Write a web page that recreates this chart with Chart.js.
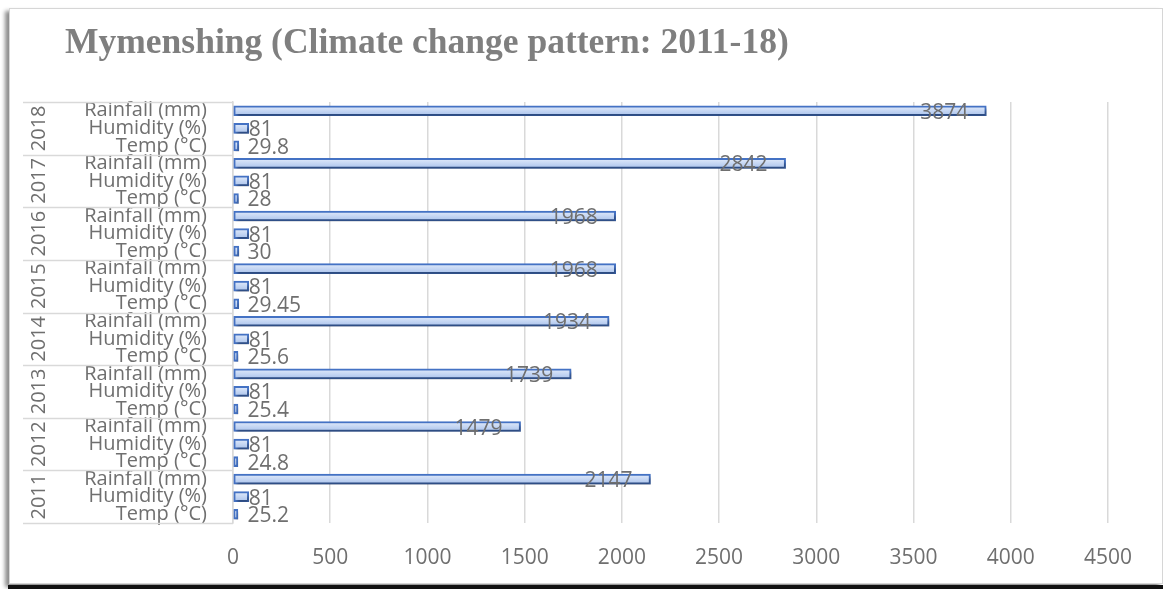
<!DOCTYPE html>
<html>
<head>
<meta charset="utf-8">
<title>Mymenshing climate change pattern 2011-18</title>
<script src="https://cdn.jsdelivr.net/npm/chart.js@4.4.1/dist/chart.umd.min.js"></script>
<style>
  html, body { margin: 0; padding: 0; background: #fff; width: 1163px; height: 589px; overflow: hidden; }
  #frame { position: absolute; left: 9px; top: 8px; width: 1152px; height: 574px;
           border: 1px solid #d6d6d6; background: #fff;
           box-shadow: -4px 3px 4px rgba(0,0,0,0.45); }
  #strip { position: absolute; left: 8px; top: 585px; width: 1155px; height: 4px; background: #111; }
  #wrap  { position: absolute; left: 0; top: 0; width: 1163px; height: 589px; }
</style>
</head>
<body>
<div id="frame"></div>
<div id="strip"></div>
<div id="wrap"><canvas id="chart"></canvas></div>
<script>
// Title and data
const chartTitle = 'Mymenshing (Climate change pattern: 2011-18)';
const years = ['2011', '2012', '2013', '2014', '2015', '2016', '2017', '2018'];
const measures = ['Temp (°C)', 'Humidity (%)', 'Rainfall (mm)'];
const tempC = [25.2, 24.8, 25.4, 25.6, 29.45, 30, 28, 29.8];
const humidityPct = [81, 81, 81, 81, 81, 81, 81, 81];
const rainfallMm = [2147, 1479, 1739, 1934, 1968, 1968, 2842, 3874];
const valueAxisMin = 0;
const valueAxisMax = 4500;
const valueAxisStep = 500;

// Flatten into year / measure rows (2011 Temp first, drawn at the bottom)
const rowLabels = [];
const rowValues = [];
const rowMeasure = [];
years.forEach((y, i) => {
  [tempC[i], humidityPct[i], rainfallMm[i]].forEach((v, m) => {
    rowLabels.push(measures[m]);
    rowValues.push(v);
    rowMeasure.push(m);
  });
});

const textGrey = '#6f6f6f';
const lineGrey = '#d9d9d9';
const bodyFont = '"Open Sans", "Noto Sans", sans-serif';

// Soft drop shadow under the bars, plus value labels
const barDecor = {
  id: 'barDecor',
  beforeDatasetsDraw(chart) {
    const c = chart.ctx;
    c.save();
    c.shadowColor = 'rgba(0,0,0,0.35)';
    c.shadowBlur = 3;
    c.shadowOffsetX = 2;
    c.shadowOffsetY = 3;
  },
  afterDatasetsDraw(chart) {
    const c = chart.ctx;
    c.restore();
    const meta = chart.getDatasetMeta(0);
    const zeroX = chart.scales.x.getPixelForValue(0);
    c.save();
    c.font = '21px ' + bodyFont;
    c.fillStyle = textGrey;
    c.textBaseline = 'middle';
    meta.data.forEach((bar, i) => {
      const txt = String(rowValues[i]);
      if (rowMeasure[i] === 2) {
        c.textAlign = 'right';
        c.fillText(txt, bar.x - 18, bar.y + 2);
      } else {
        c.textAlign = 'left';
        c.fillText(txt, Math.max(bar.x, zeroX + 14.5), bar.y + 2);
      }
    });
    c.restore();
  }
};

// Year group labels, group separators and the title
const groupAxis = {
  id: 'groupAxis',
  afterDraw(chart) {
    const c = chart.ctx;
    const ys = chart.scales.y;
    c.save();
    c.strokeStyle = lineGrey;
    c.lineWidth = 1.5;
    for (let k = 0; k <= years.length; k++) {
      const y = Math.round(ys.getPixelForValue(k * 3 - 0.5)) + 0.5;
      c.beginPath();
      c.moveTo(23, y);
      c.lineTo(ys.right, y);
      c.stroke();
    }
    c.fillStyle = textGrey;
    c.font = '20px ' + bodyFont;
    c.textAlign = 'center';
    c.textBaseline = 'middle';
    years.forEach((yr, k) => {
      const yc = ys.getPixelForValue(k * 3 + 1);
      c.save();
      c.translate(39, yc);
      c.rotate(-Math.PI / 2);
      c.fillText(yr, 0, 0);
      c.restore();
    });
    c.font = 'bold 35.5px "Liberation Serif", "Times New Roman", serif';
    c.fillStyle = '#7f7f7f';
    c.textAlign = 'left';
    c.textBaseline = 'alphabetic';
    c.fillText(chartTitle, 65, 53);
    c.restore();
  }
};

// Light top-to-bottom gradient inside each bar
function barFill(ctx) {
  const chart = ctx.chart;
  const ys = chart.scales && chart.scales.y;
  const fallback = '#c9d8f2';
  if (!ys || ctx.dataIndex === undefined) return fallback;
  const y = ys.getPixelForValue(ctx.dataIndex);
  if (!isFinite(y)) return fallback;
  const g = chart.ctx.createLinearGradient(0, y - 5, 0, y + 5);
  g.addColorStop(0, '#e2ebfa');
  g.addColorStop(1, '#a9c2ec');
  return g;
}

new Chart(document.getElementById('chart'), {
  type: 'bar',
  data: {
    labels: rowLabels,
    datasets: [{
      data: rowValues,
      backgroundColor: barFill,
      borderColor: '#4472c4',
      borderWidth: 2,
      borderSkipped: false,
      barThickness: 10
    }]
  },
  options: {
    indexAxis: 'y',
    responsive: true,
    maintainAspectRatio: false,
    animation: false,
    layout: { padding: { top: 102, right: 55, bottom: 0, left: 0 } },
    plugins: {
      legend: { display: false },
      title: { display: false },
      tooltip: { enabled: false }
    },
    scales: {
      x: {
        min: valueAxisMin,
        max: valueAxisMax,
        ticks: {
          stepSize: valueAxisStep,
          color: textGrey,
          font: { family: bodyFont, size: 21 },
          padding: 22,
          callback: (v) => String(v)
        },
        grid: { color: lineGrey, lineWidth: 1.5, drawTicks: false },
        border: { display: false },
        afterFit(scale) { scale.height = 66; }
      },
      y: {
        reverse: true,
        ticks: {
          autoSkip: false,
          color: textGrey,
          font: { family: bodyFont, size: 20, lineHeight: 1 },
          padding: 26
        },
        grid: { display: false, drawTicks: false },
        border: { display: true, color: lineGrey, width: 1.5 },
        afterFit(scale) { scale.width = 233; }
      }
    }
  },
  plugins: [barDecor, groupAxis]
});
</script>
</body>
</html>
